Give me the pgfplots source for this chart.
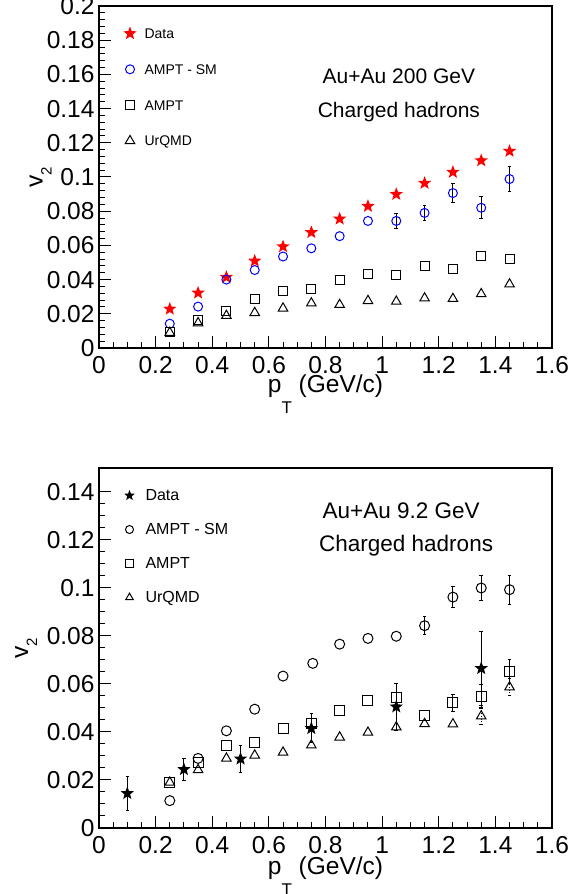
\documentclass[border=0pt]{standalone}
\usepackage{fontspec}
\setmainfont{Liberation Sans}
\usepackage{pgfplots}
\usepackage{pgfplotstable}
\pgfplotsset{compat=1.18}

\definecolor{rootred}{RGB}{255,0,0}
\definecolor{rootblue}{RGB}{0,0,255}

% filled five-pointed star, like ROOT marker 29
\pgfdeclareplotmark{fstar}{%
  \pgfpathmoveto{\pgfpointpolar{90}{\pgfplotmarksize}}%
  \pgfpathlineto{\pgfpointpolar{126}{0.42\pgfplotmarksize}}%
  \pgfpathlineto{\pgfpointpolar{162}{\pgfplotmarksize}}%
  \pgfpathlineto{\pgfpointpolar{198}{0.42\pgfplotmarksize}}%
  \pgfpathlineto{\pgfpointpolar{234}{\pgfplotmarksize}}%
  \pgfpathlineto{\pgfpointpolar{270}{0.42\pgfplotmarksize}}%
  \pgfpathlineto{\pgfpointpolar{306}{\pgfplotmarksize}}%
  \pgfpathlineto{\pgfpointpolar{342}{0.42\pgfplotmarksize}}%
  \pgfpathlineto{\pgfpointpolar{18}{\pgfplotmarksize}}%
  \pgfpathlineto{\pgfpointpolar{54}{0.42\pgfplotmarksize}}%
  \pgfpathclose
  \pgfusepathqfill
}

% ---- Au+Au 200 GeV ----
\pgfplotstableread{
x y
0.25 0.0228
0.35 0.0322
0.45 0.0414
0.55 0.0509
0.65 0.0593
0.75 0.0676
0.85 0.0755
0.95 0.0829
1.05 0.0899
1.15 0.0964
1.25 0.1028
1.35 0.1096
1.45 0.1151
}\topdata
\pgfplotstableread{
x y e
0.25 0.0142 0
0.35 0.0242 0
0.45 0.0400 0
0.55 0.0456 0
0.65 0.0535 0
0.75 0.0583 0
0.85 0.0654 0
0.95 0.0743 0
1.05 0.0743 0.0042
1.15 0.0790 0.0044
1.25 0.0906 0.0058
1.35 0.0820 0.0065
1.45 0.0988 0.0072
}\topsm
\pgfplotstableread{
x y
0.25 0.0094
0.35 0.0166
0.45 0.0215
0.55 0.0286
0.65 0.0335
0.75 0.0347
0.85 0.0399
0.95 0.0435
1.05 0.0426
1.15 0.0481
1.25 0.0460
1.35 0.0537
1.45 0.0521
}\topampt
\pgfplotstableread{
x y
0.25 0.0090
0.35 0.0146
0.45 0.0189
0.55 0.0206
0.65 0.0232
0.75 0.0262
0.85 0.0253
0.95 0.0276
1.05 0.0272
1.15 0.0291
1.25 0.0288
1.35 0.0316
1.45 0.0373
}\topurqmd

% ---- Au+Au 9.2 GeV ----
\pgfplotstableread{
x y e
0.10 0.0144 0.0071
0.30 0.0244 0.0045
0.50 0.0288 0.0057
0.75 0.0415 0.0060
1.05 0.0505 0.0097
1.35 0.0665 0.0155
}\botdata
\pgfplotstableread{
x y e
0.25 0.0114 0
0.35 0.0290 0
0.45 0.0405 0
0.55 0.0495 0
0.65 0.0633 0
0.755 0.0686 0
0.85 0.0766 0
0.95 0.0790 0
1.05 0.0799 0
1.15 0.0843 0.0038
1.25 0.0962 0.0044
1.35 0.1000 0.0052
1.45 0.0993 0.0061
}\botsm
\pgfplotstableread{
x y e
0.25 0.0189 0
0.35 0.0272 0
0.45 0.0344 0
0.55 0.0358 0
0.65 0.0413 0
0.75 0.0437 0
0.85 0.0490 0
0.95 0.0530 0
1.05 0.0545 0
1.15 0.0468 0
1.25 0.0522 0.0036
1.35 0.0547 0.0050
1.45 0.0650 0.0050
}\botampt
\pgfplotstableread{
x y e
0.25 0.0190 0
0.35 0.0242 0
0.45 0.0290 0
0.55 0.0303 0
0.65 0.0315 0
0.75 0.0345 0
0.85 0.0378 0
0.95 0.0398 0
1.05 0.0420 0
1.15 0.0434 0
1.25 0.0433 0
1.35 0.0466 0.0035
1.45 0.0587 0.0035
}\boturqmd

\pgfplotsset{
  rootaxis/.style={
    scale only axis, width=453bp, anchor=south west,
    xmin=0, xmax=1.6, ymin=0,
    xtick={0,0.2,0.4,0.6,0.8,1,1.2,1.4,1.6},
    minor x tick num=3,
    tick align=inside, tick pos=left,
    major tick length=12bp, minor tick length=6bp,
    tick style={line width=1bp, black},
    axis line style={line width=1.5bp},
    scaled ticks=false,
    /pgf/number format/fixed,
    /pgf/number format/precision=2,
    /pgf/number format/assume math mode=true,
    ticklabel style={font=\fontsize{24.5bp}{24.5bp}\selectfont, inner sep=0pt},
    yticklabel style={xshift=-4bp},
    xticklabel style={yshift=-8bp},
    xlabel={p\raisebox{-21bp}{\fontsize{17bp}{17bp}\selectfont T} (GeV/c)},
    ylabel={v\raisebox{-9bp}{\fontsize{15bp}{15bp}\selectfont 2}},
    label style={font=\fontsize{24.5bp}{24.5bp}\selectfont},
    legend cell align=left,
    legend image code/.code={\path[draw=none, fill=none] (-7bp,-7bp) rectangle (7bp,7bp);
      \draw[##1] plot coordinates {(0bp,0bp)};},
    legend style={draw=none, fill=none, inner sep=0pt, anchor=north west,
      nodes={inner sep=0pt, text height=10bp, text depth=0bp}},
    only marks, line width=1bp,
  },
  errs/.style={forget plot, mark=none, black,
    /pgfplots/error bars/y dir=both,
    /pgfplots/error bars/y explicit,
    /pgfplots/error bars/error bar style={line width=1bp, black},
    /pgfplots/error bars/error mark options={rotate=90, mark size=1.8bp, line width=1bp, black}},
}

\begin{document}
\begin{tikzpicture}
\useasboundingbox (0,0) rectangle (581bp,894bp);

\begin{axis}[rootaxis, at={(99bp,546bp)}, height=342bp, ymax=0.2,
  ytick={0,0.02,0.04,0.06,0.08,0.1,0.12,0.14,0.16,0.18,0.2},
  minor y tick num=4,
  xlabel style={at={(axis description cs:0.5,0)}, anchor=base, yshift=-45bp},
  ylabel style={at={(axis description cs:-0.129,0.5)}, anchor=center},
  legend style={at={(axis description cs:0.0519,0.9415)}, row sep=21.8bp,
    /tikz/column sep=7.5bp, font=\fontsize{14bp}{14bp}\selectfont}]
  \addplot[errs] table[x=x, y=y, y error=e,
    restrict expr to domain={\thisrow{e}}{0.0001:1}] {\topsm};
  \addplot[rootred, mark=fstar, mark size=7bp] table[x=x, y=y] {\topdata};
  \addlegendentry{Data}
  \addplot[rootblue, mark=o, mark size=4.5bp] table[x=x, y=y] {\topsm};
  \addlegendentry{AMPT - SM}
  \addplot[black, mark=square, mark size=4.5bp] table[x=x, y=y] {\topampt};
  \addlegendentry{AMPT}
  \addplot[black, mark=triangle, mark size=5.5bp] table[x=x, y=y] {\topurqmd};
  \addlegendentry{UrQMD}
  \node[font=\fontsize{21bp}{21bp}\selectfont] at (rel axis cs:0.662,0.795) {Au+Au 200 GeV};
  \node[font=\fontsize{21bp}{21bp}\selectfont] at (rel axis cs:0.662,0.690) {Charged hadrons};
\end{axis}

\begin{axis}[rootaxis, at={(99bp,66bp)}, height=360bp, ymax=0.15,
  ytick={0,0.02,0.04,0.06,0.08,0.1,0.12,0.14},
  minor y tick num=3,
  xlabel style={at={(axis description cs:0.5,0)}, anchor=base, yshift=-46bp},
  ylabel style={at={(axis description cs:-0.161,0.5)}, anchor=center},
  legend image post style={every mark/.append style={scale=0.8}},
  legend style={at={(axis description cs:0.0508,0.9444)}, row sep=20bp,
    /tikz/column sep=9bp, font=\fontsize{16bp}{16bp}\selectfont}]
  \addplot[errs] table[x=x, y=y, y error=e] {\botdata};
  \addplot[errs] table[x=x, y=y, y error=e,
    restrict expr to domain={\thisrow{e}}{0.0001:1}] {\botsm};
  \addplot[errs] table[x=x, y=y, y error=e,
    restrict expr to domain={\thisrow{e}}{0.0001:1}] {\botampt};
  \addplot[errs, /pgfplots/error bars/error bar style={line width=0.6bp, black, dotted}]
    table[x=x, y=y, y error=e,
    restrict expr to domain={\thisrow{e}}{0.0001:1}] {\boturqmd};
  \addplot[black, mark=fstar, mark size=7bp] table[x=x, y=y] {\botdata};
  \addlegendentry{Data}
  \addplot[black, mark=o, mark size=5bp] table[x=x, y=y] {\botsm};
  \addlegendentry{AMPT - SM}
  \addplot[black, mark=square, mark size=5bp] table[x=x, y=y] {\botampt};
  \addlegendentry{AMPT}
  \addplot[black, mark=triangle, mark size=5.5bp] table[x=x, y=y] {\boturqmd};
  \addlegendentry{UrQMD}
  \node[font=\fontsize{22.5bp}{22.5bp}\selectfont] at (rel axis cs:0.667,0.881) {Au+Au 9.2 GeV};
  \node[font=\fontsize{22.5bp}{22.5bp}\selectfont] at (rel axis cs:0.678,0.783) {Charged hadrons};
\end{axis}
\end{tikzpicture}
\end{document}
